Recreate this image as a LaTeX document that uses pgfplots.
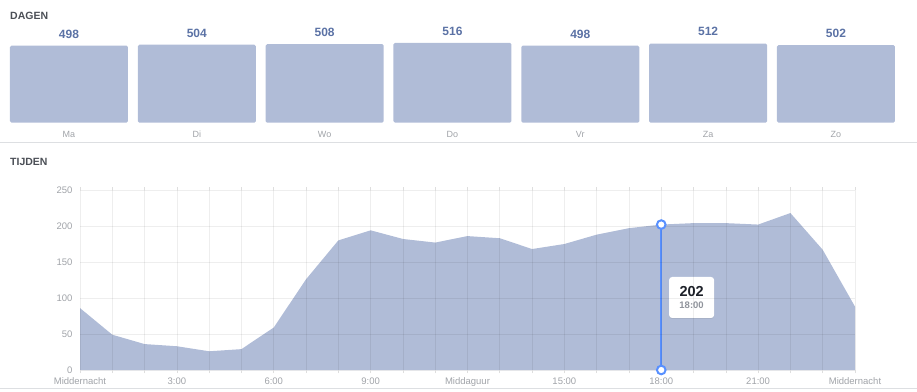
\documentclass[border=0pt]{standalone}
\usepackage{fontspec}
\setmainfont{Liberation Sans}
\usepackage{pgfplots}
\pgfplotsset{compat=1.18}
\usetikzlibrary{shadows}
\definecolor{barcol}{HTML}{B0BCD7}
\definecolor{valcol}{HTML}{5B72A5}
\definecolor{lblcol}{HTML}{A0A3A8}
\definecolor{titcol}{HTML}{4B4F56}
\definecolor{fbblue}{HTML}{5890FF}
\definecolor{sepcol}{HTML}{DDDFE2}
\begin{document}
\begin{tikzpicture}[x=1pt,y=1pt]
\path[use as bounding box] (0,0) rectangle (917,391);
% titles and separators
\node[anchor=west,inner sep=0,font=\fontsize{10.5}{12}\selectfont\bfseries,text=titcol] at (10,375) {DAGEN};
\node[anchor=west,inner sep=0,font=\fontsize{10.5}{12}\selectfont\bfseries,text=titcol] at (10,229) {TIJDEN};
\draw[sepcol,line width=1pt] (0,248) -- (917,248);
\draw[sepcol,line width=1pt] (0,3) -- (917,3);

% top: days
\begin{axis}[
  at={(5.08pt,268.3pt)}, anchor=south west, scale only axis,
  width=894.8pt, height=92.8pt,
  xmin=-0.5, xmax=6.5, ymin=0, ymax=600,
  axis line style={draw=none}, tick style={draw=none},
  ytick=\empty, xtick=data,
  xticklabels={Ma,Di,Wo,Do,Vr,Za,Zo},
  xticklabel style={font=\fontsize{9}{10}\selectfont, text=lblcol, text height=6.5pt, text depth=0pt, yshift=-1pt},
  /pgf/number format/assume math mode=true,
  ybar, bar width=118pt,
  nodes near coords,
  every node near coord/.append style={font=\fontsize{12}{14}\selectfont\bfseries, text=valcol, yshift=4pt},
  clip=false,
]
\addplot[fill=barcol, draw=none, rounded corners=1.5pt] coordinates {
(0,498) (1,504) (2,508) (3,516) (4,498) (5,512) (6,502)};
\end{axis}

% bottom: hours
\begin{axis}[
  at={(80pt,21pt)}, anchor=south west, scale only axis,
  width=775pt, height=180pt,
  xmin=0, xmax=24, ymin=0, ymax=250,
  axis line style={draw=none},
  axis on top,
  xtick={0,3,...,24},
  xticklabels={Middernacht,3:00,6:00,9:00,Middaguur,15:00,18:00,21:00,Middernacht},
  minor xtick={0,...,24},
  ytick={0,50,...,250},
  xmajorgrids=false, xminorgrids=true, ymajorgrids=true,
  major grid style={draw=black, opacity=0.065, line width=0.6pt},
  minor grid style={draw=black, opacity=0.065, line width=0.6pt},
  tick align=outside,
  xtick style={draw=black!13, line width=0.6pt},
  major tick length=3pt, minor tick length=3pt,
  ytick style={draw=none},
  /pgf/number format/assume math mode=true,
  xticklabel style={font=\fontsize{9.5}{10}\selectfont, text=lblcol, text height=7pt, text depth=0pt, yshift=-1pt},
  yticklabel style={font=\fontsize{9.5}{10}\selectfont, text=lblcol, xshift=-1pt},
  clip=false,
]
\addplot[fill=barcol, draw=none] coordinates {
(0,86) (1,49) (2,36) (3,33) (4,26) (5,29) (6,59) (7,126) (8,180) (9,194)
(10,182) (11,177) (12,186) (13,183) (14,168) (15,175) (16,188) (17,197)
(18,202) (19,204) (20,204) (21,202) (22,218) (23,167) (24,88)} \closedcycle;
\addplot[fbblue, line width=2pt, mark=*, mark size=4.3pt,
  mark options={fill=white, draw=fbblue, line width=2pt}] coordinates {(18,0) (18,202)};
\node[fill=white, rounded corners=3pt, minimum width=45pt, minimum height=41pt,
  inner sep=0pt, align=center,
  drop shadow={opacity=0.18, shadow xshift=0pt, shadow yshift=-1pt}]
  at (axis cs:18.94,100.7)
  {{\fontsize{14.5}{16}\selectfont\bfseries\color[HTML]{1D2129}202}\\[0pt]
   {\fontsize{9.5}{10}\selectfont\bfseries\color[HTML]{90949C}18:00}};
\end{axis}
\end{tikzpicture}
\end{document}
